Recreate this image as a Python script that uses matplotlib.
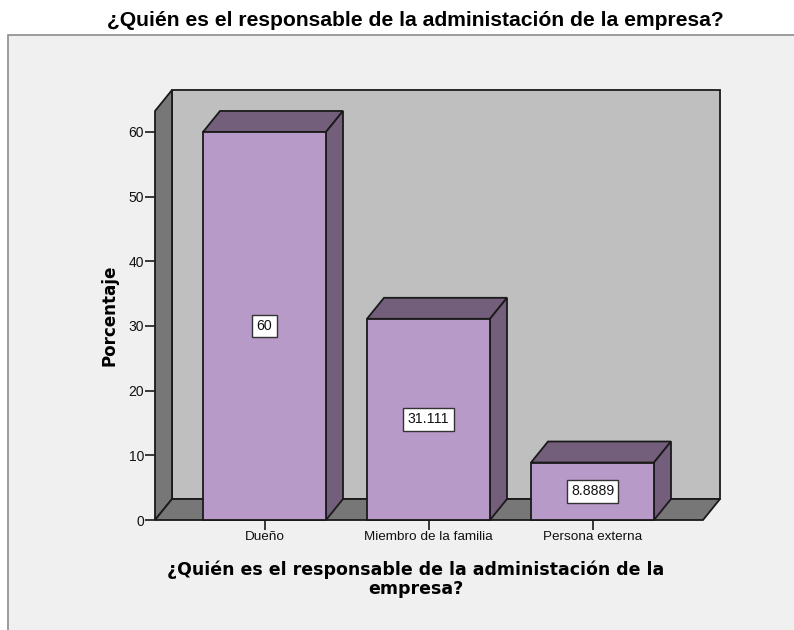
# -*- coding: utf-8 -*-
import numpy as np
import matplotlib
matplotlib.use('Agg')
import matplotlib.pyplot as plt
from matplotlib.patches import Polygon, Rectangle

categories = ['Dueño', 'Miembro de la familia', 'Persona externa']
values = [60, 31.111, 8.8889]
value_labels = ['60', '31.111', '8.8889']
yticks = [0, 10, 20, 30, 40, 50, 60]
title = '¿Quién es el responsable de la administación de la empresa?'
xlabel = '¿Quién es el responsable de la administación de la\nempresa?'
ylabel = 'Porcentaje'

W, H = 794, 630
EDGE = '#1a1a1a'
FACE = '#b89ac8'
DARK = '#735f7b'
WALL = '#bfbfbf'
SIDE = '#777777'
BG = '#f0f0f0'


def poly(ax, pts, face):
    ax.add_patch(Polygon(pts, closed=True, facecolor=face, edgecolor=EDGE,
                         linewidth=1.3, clip_on=False, joinstyle='miter'))


fig = plt.figure(figsize=(W/100., H/100.), dpi=100, facecolor='white')

# grey chart frame, cut off by the bottom and right of the image
fig.add_artist(Rectangle((8/W, -0.02), 1.02-8/W, 1.02-35/H, transform=fig.transFigure,
                         facecolor=BG, edgecolor='#8c8c8c', linewidth=1.2, zorder=-1))

fig.text(415/W, 1-20/H, title, ha='center', va='center', fontsize=15.2,
         fontweight='bold', family='Liberation Sans')

# axes = front plane of the 3D box
left, right, bottom, top = 155, 703, 520, 111
ax = fig.add_axes([left/W, 1-bottom/H, (right-left)/W, (bottom-top)/H])
ax.patch.set_visible(False)
step = 164.
ax.set_xlim(-(264.5-left)/step, (right-264.5)/step)
ax.set_ylim(0, (bottom-top)/6.467)
for s in ax.spines.values():
    s.set_visible(False)

dx = 17/step     # depth offset
dy = 21/6.467
x0, x1 = ax.get_xlim()
y0, y1 = ax.get_ylim()

# walls and floor
poly(ax, [(x0+dx, y0+dy), (x1+dx, y0+dy), (x1+dx, y1+dy), (x0+dx, y1+dy)], WALL)
poly(ax, [(x0, y0), (x0+dx, y0+dy), (x0+dx, y1+dy), (x0, y1)], SIDE)
poly(ax, [(x0, y0), (x1, y0), (x1+dx, y0+dy), (x0+dx, y0+dy)], SIDE)

# bars
bw = 123/step
for i, (v, lab) in enumerate(zip(values, value_labels)):
    a, b = i-bw/2, i+bw/2
    poly(ax, [(a, v), (b, v), (b+dx, v+dy), (a+dx, v+dy)], DARK)
    poly(ax, [(b, 0), (b+dx, dy), (b+dx, v+dy), (b, v)], DARK)
    poly(ax, [(a, 0), (b, 0), (b, v), (a, v)], FACE)
    ax.text(i, v/2., lab, ha='center', va='center', fontsize=10.2, color='#111111',
            family='Liberation Sans', zorder=5,
            bbox=dict(boxstyle='square,pad=0.3', facecolor='white', edgecolor='#333333', linewidth=1))

ax.set_xticks(range(len(categories)))
ax.set_xticklabels(categories, fontsize=9.7, family='Liberation Sans', color='#111111')
ax.set_yticks(yticks)
ax.set_yticklabels([str(t) for t in yticks], fontsize=10, family='Liberation Sans', color='#111111')
ax.tick_params(axis='both', length=7, width=1.2, color=EDGE, pad=1)

fig.text(416/W, 1-579/H, xlabel, ha='center', va='center', fontsize=12.5,
         fontweight='bold', family='DejaVu Sans', linespacing=1.05)
fig.text(109/W, 1-315/H, ylabel, ha='center', va='center', rotation=90, fontsize=12.1,
         fontweight='bold', family='DejaVu Sans')

fig.savefig('out.png', dpi=100, facecolor='white')
